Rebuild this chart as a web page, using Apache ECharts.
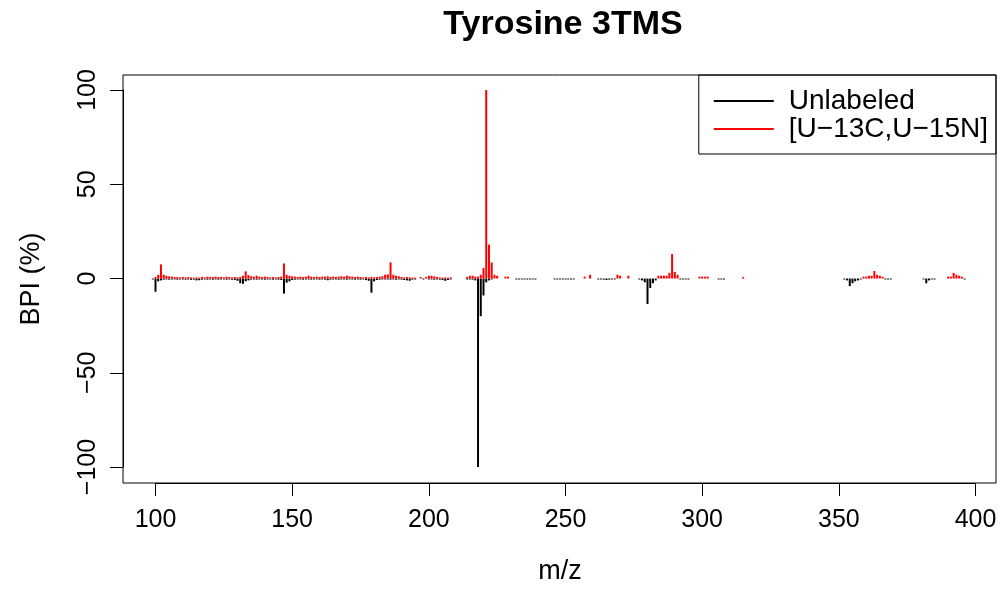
<!DOCTYPE html>
<html>
<head>
<meta charset="utf-8">
<script src="https://cdn.jsdelivr.net/npm/echarts@6/dist/echarts.min.js"></script>
<style>
html,body{margin:0;padding:0;background:#fff;}
#chart{width:1006px;height:591px;}
</style>
</head>
<body>
<div id="chart"></div>
<script>
// ---- data (m/z and BPI %) ----
var chartTitle = 'Tyrosine 3TMS';
var xAxisTitle = 'm/z';
var yAxisTitle = 'BPI (%)';
var xTicks = [100, 150, 200, 250, 300, 350, 400];
var yTicks = [-100, -50, 0, 50, 100];

var unlabeledMz = [
  99,100,101,102,103,104,105,106,107,108,109,110,111,112,113,114,115,116,117,118,119,120,
  121,122,123,124,125,126,127,128,129,130,131,132,133,134,135,136,137,138,139,140,
  141,142,143,144,145,146,147,148,149,150,151,152,153,154,155,156,157,158,159,160,
  161,162,163,164,165,166,167,168,169,170,171,172,173,174,175,176,177,178,179,180,
  181,182,183,184,185,186,187,188,189,190,191,192,193,194,195,198,200,201,202,203,
  204,205,206,207,208,214,215,216,217,218,219,220,221,222,223,
  232,233,234,235,236,237,238,239,246,247,248,249,250,251,252,253,
  262,263,264,265,266,267,268,277,278,279,280,281,282,283,292,293,294,295,306,307,308,
  352,353,354,355,356,357,358,367,368,369,381,382,383,384,385,396
];
var unlabeledInt = [
  -0.5,-7,-1.5,-1,-0.6,-0.5,-0.6,-0.5,-0.5,-0.6,-0.5,-0.5,-0.6,-0.5,-0.7,-0.6,-1,-0.9,-0.6,-0.5,-0.6,-0.5,
  -0.6,-0.5,-0.6,-0.5,-0.5,-0.6,-0.5,-0.6,-0.8,-1.2,-2.5,-2.8,-1.5,-1,-0.6,-0.5,-0.6,-0.5,-0.5,-0.6,
  -0.5,-0.5,-0.6,-0.5,-0.6,-0.8,-8,-2.2,-1.5,-0.8,-0.6,-0.5,-0.5,-0.6,-0.5,-0.5,-0.6,-0.5,-0.5,-0.6,
  -0.5,-0.6,-0.9,-0.6,-0.5,-0.5,-0.6,-0.5,-0.5,-0.6,-0.5,-0.5,-0.6,-0.5,-0.6,-0.5,-0.8,-1.2,-7.5,-1.5,
  -0.8,-0.6,-0.5,-0.5,-0.5,-0.6,-0.5,-0.6,-0.5,-0.6,-0.8,-1,-1.2,-0.6,-0.5,-0.5,-0.5,-0.5,-0.6,-0.5,
  -0.6,-0.8,-1.2,-0.8,-0.5,-0.5,-0.5,-0.6,-1,-100,-20,-9,-2,-1,-0.5,
  -0.5,-0.5,-0.5,-0.5,-0.5,-0.5,-0.5,-0.5,-0.5,-0.5,-0.5,-0.5,-0.5,-0.5,-0.5,-0.5,
  -0.5,-0.5,-0.6,-0.8,-0.6,-0.5,-0.5,-0.5,-1,-2,-13.5,-5,-2.5,-1,-0.5,-0.5,-0.5,-0.5,-0.5,-0.5,-0.5,
  -0.5,-1,-4,-2.5,-1.5,-1,-0.5,-0.5,-0.5,-0.5,-0.5,-2.5,-1,-0.5,-0.5,-0.5
];

var labeledMz = [
  100,101,102,103,104,105,106,107,108,109,110,111,112,113,114,115,116,117,118,119,120,
  121,122,123,124,125,126,127,128,129,130,131,132,133,134,135,136,137,138,139,140,
  141,142,143,144,145,146,147,148,149,150,151,152,153,154,155,156,157,158,159,160,
  161,162,163,164,165,166,167,168,169,170,171,172,173,174,175,176,177,178,179,180,
  181,182,183,184,185,186,187,188,189,190,191,192,193,194,195,197,199,200,201,202,
  203,204,205,206,207,208,214,215,216,217,218,219,220,221,222,223,224,225,228,229,
  257,259,269,270,273,284,285,286,287,288,289,290,291,299,300,301,302,315,
  359,360,361,362,363,364,365,366,390,391,392,393,394,395
];
var labeledInt = [
  0.8,2,7.5,2,1.5,1.2,1,0.8,0.8,0.6,0.8,0.6,0.8,0.6,0.5,0.6,0.5,0.8,0.6,1,0.8,
  0.8,1,0.8,0.8,0.6,1,0.8,0.6,0.8,0.6,0.8,1.5,3.8,1.8,1.2,1,1.5,1,0.8,1,
  0.8,0.6,0.8,0.6,0.8,1,8,2,1.5,1.2,1,0.8,1,0.8,1,1.5,1,0.8,1,0.8,
  1,1,1.2,0.8,1,0.8,1,1.2,1,1.5,1.2,1,0.8,1,0.8,0.6,0.8,0.6,0.8,0.6,
  0.8,1,1.2,2,2.2,8.6,2,1.5,1.2,0.8,0.6,0.8,0.6,0.5,0.5,0.8,0.8,1.5,1.5,1.2,
  0.8,0.6,0.5,0.6,0.5,0.6,0.8,1.5,1.5,1,1,2,5.5,100,18,8.5,2,1.5,1,1,
  1,2,2,1.5,1.5,1.5,1.5,1.5,1.5,3,13,3.5,2,1,1,1,1,0.8,
  1,1,1.5,1.5,4,2,1.5,1,1,1,3,2,1.5,1
];

var seriesNames = ['Unlabeled', '[U\u221213C,U\u221215N]'];
var seriesColors = ['#000000', '#ff0000'];

function pairs(xs, ys) { return xs.map(function (x, i) { return [x, ys[i]]; }); }
function minus(v) { return String(v).replace('-', '\u2212'); }

var chart = echarts.init(document.getElementById('chart'), null, {renderer: 'canvas'});
var FONT = 'Liberation Sans, Arial, Helvetica, sans-serif';

chart.setOption({
  animation: false,
  backgroundColor: '#ffffff',
  textStyle: {fontFamily: FONT, color: '#000'},
  title: {
    text: chartTitle,
    left: 558, top: 3, textAlign: 'center',
    textStyle: {fontFamily: FONT, fontWeight: 'bold', fontSize: 34, color: '#000'}
  },
  legend: {
    orient: 'vertical', right: 10, top: 75,
    data: seriesNames,
    icon: 'rect', itemWidth: 60, itemHeight: 2, itemGap: 0,
    padding: [12, 8, 11, 15],
    borderColor: '#000', borderWidth: 1,
    selectedMode: false,
    textStyle: {fontFamily: FONT, fontSize: 28, color: '#000', padding: [0, 0, 0, 10], lineHeight: 27}
  },
  graphic: [
    {type: 'text', x: 560, y: 572,
     style: {text: xAxisTitle, fill: '#000', font: '27px ' + FONT, textAlign: 'center', textVerticalAlign: 'middle'}},
    {type: 'text', x: 32, y: 279, rotation: Math.PI / 2,
     style: {text: yAxisTitle, fill: '#000', font: '27px ' + FONT, textAlign: 'center', textVerticalAlign: 'middle'}}
  ],
  grid: [
    {left: 123, right: 10, top: 75, bottom: 108, show: true, borderColor: '#000', borderWidth: 1, backgroundColor: 'transparent'},
    {left: 155.5, right: 30.5, top: 90, bottom: 124, show: false}
  ],
  xAxis: [
    {type: 'value', gridIndex: 0, min: 88.11, max: 407.5,
     axisLine: {show: false}, axisTick: {show: false}, axisLabel: {show: false}, splitLine: {show: false}},
    {type: 'value', gridIndex: 1, min: xTicks[0], max: xTicks[xTicks.length - 1], interval: 50,
     position: 'bottom', offset: 16,
     axisLine: {show: true, onZero: false, lineStyle: {color: '#000', width: 1}},
     axisTick: {show: true, length: 13, lineStyle: {color: '#000', width: 1}},
     axisLabel: {show: true, margin: 25, fontFamily: FONT, fontSize: 25, color: '#000'},
     splitLine: {show: false}}
  ],
  yAxis: [
    {type: 'value', gridIndex: 0, min: -108.5, max: 108,
     axisLine: {show: false}, axisTick: {show: false}, axisLabel: {show: false}, splitLine: {show: false}},
    {type: 'value', gridIndex: 1, min: yTicks[0], max: yTicks[yTicks.length - 1], interval: 50,
     position: 'left', offset: 32.5,
     axisLine: {show: true, onZero: false, lineStyle: {color: '#000', width: 1}},
     axisTick: {show: true, length: 13, lineStyle: {color: '#000', width: 1}},
     axisLabel: {show: true, rotate: 90, margin: 22, fontFamily: FONT, fontSize: 25, color: '#000',
       formatter: function (v) { return minus(v); }},
     splitLine: {show: false}}
  ],
  series: [
    {name: seriesNames[0], type: 'bar', xAxisIndex: 0, yAxisIndex: 0,
     data: pairs(unlabeledMz, unlabeledInt), barWidth: 2, barGap: '-100%',
     itemStyle: {color: seriesColors[0]}, emphasis: {disabled: true}},
    {name: seriesNames[1], type: 'bar', xAxisIndex: 0, yAxisIndex: 0,
     data: pairs(labeledMz, labeledInt), barWidth: 2, barGap: '-100%',
     itemStyle: {color: seriesColors[1]}, emphasis: {disabled: true}}
  ]
});
</script>
</body>
</html>
